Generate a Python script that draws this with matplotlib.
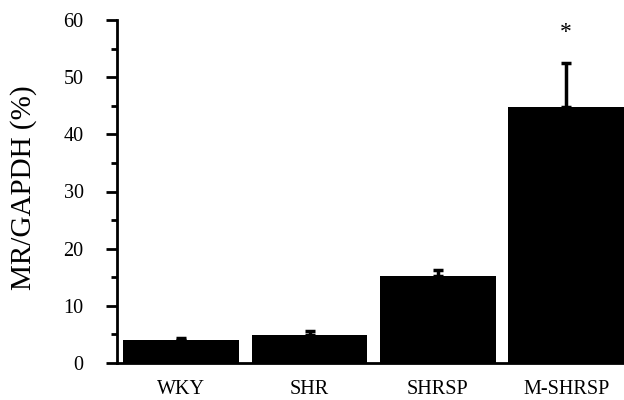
import matplotlib.pyplot as plt
import numpy as np
from matplotlib.ticker import MultipleLocator

groups = ["WKY", "SHR", "SHRSP", "M-SHRSP"]
values = [4.0, 4.9, 15.3, 44.8]
errors = [0.3, 0.7, 1.0, 7.7]
star_y = 57.8

plt.rcParams['font.family'] = ['Liberation Serif', 'DejaVu Serif']

fig = plt.figure(figsize=(6.24, 4.0), dpi=100)
ax = fig.add_axes([0.1875, 0.0925, 0.8125, 0.8575])

x = np.arange(len(groups))
ax.bar(x, values, width=0.9, color="black", zorder=2)
ax.errorbar(x, values, yerr=[np.zeros(len(errors)), errors], fmt="none",
            ecolor="black", elinewidth=2.5, capsize=3.6, capthick=2.5, zorder=3)
ax.text(x[3], star_y, "*", ha="center", va="center", fontsize=17)

ax.set_xlim(-0.5, 3.45)
ax.set_ylim(0, 60)
ax.set_xticks(x)
ax.set_xticklabels(groups, fontsize=14.5)
ax.yaxis.set_major_locator(MultipleLocator(10))
ax.yaxis.set_minor_locator(MultipleLocator(5))
ax.tick_params(axis="y", which="major", direction="out", length=8, width=2,
               labelsize=14.5, pad=16)
ax.tick_params(axis="y", which="minor", direction="out", length=4.5, width=2)
ax.tick_params(axis="x", length=0, pad=12)

# y label placed by hand, like the original
fig.text(24 / 624, 1 - 187.5 / 400, "MR/GAPDH (%)", rotation=90,
         ha="center", va="center", fontsize=21)

for s in ["top", "right"]:
    ax.spines[s].set_visible(False)
ax.spines["left"].set_linewidth(2)
ax.spines["bottom"].set_linewidth(2)

fig.savefig("out.png", dpi=100)
